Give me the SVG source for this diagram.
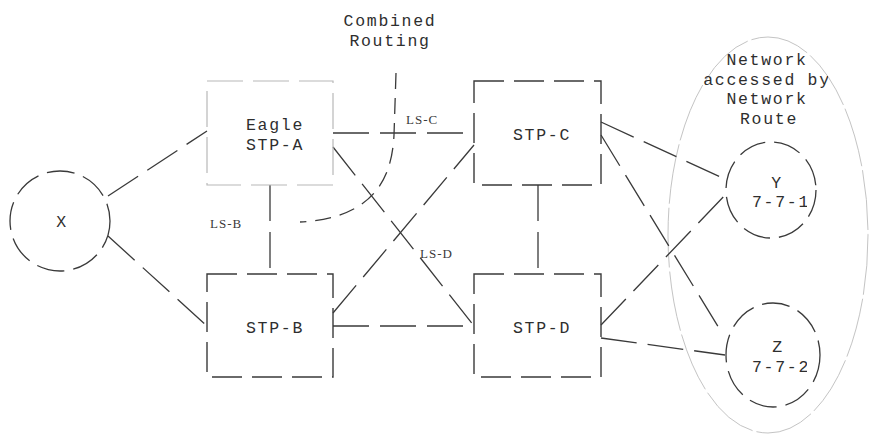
<svg xmlns="http://www.w3.org/2000/svg" width="871" height="436" viewBox="0 0 871 436">
<style>
.bg{fill:#fff}
.box{fill:none;stroke:#3a3a3a;stroke-width:1.4;stroke-dasharray:30 10}
.boxa{fill:none;stroke:#b8b8b8;stroke-width:1.2;stroke-dasharray:36 10}
.circ{fill:none;stroke:#3a3a3a;stroke-width:1.3;stroke-dasharray:28 9}
.link{fill:none;stroke:#3a3a3a;stroke-width:1.3;stroke-dasharray:36 11}
.zone{fill:none;stroke:#c4c4c4;stroke-width:1;stroke-dasharray:60 4}
.t{font-family:"Liberation Mono","Courier New",monospace;font-size:16.5px;letter-spacing:1.7px;fill:#2e2e2e;text-anchor:middle}
.s{font-family:"Liberation Serif","Times New Roman",serif;font-size:13px;fill:#3a3a3a;letter-spacing:1px}
</style>
<defs>
<clipPath id="clipNet"><rect x="600" y="0" width="228" height="436"/></clipPath>
<clipPath id="clipY"><rect x="700" y="140" width="107" height="100"/></clipPath>
<clipPath id="clipZ"><rect x="700" y="300" width="107" height="110"/></clipPath>
</defs>
<rect class="bg" x="0" y="0" width="871" height="436"/>

<g id="network-zone">
<ellipse class="zone" cx="768" cy="235" rx="100" ry="198"/>
<g clip-path="url(#clipNet)">
<text class="t" x="767" y="65">Network</text>
<text class="t" x="767" y="84.5">accessed by</text>
<text class="t" x="767" y="104">Network</text>
<text class="t" x="769" y="123.5">Route</text>
</g>
</g>

<g id="connectors">
<line class="link" x1="108" y1="196" x2="207" y2="131"/>
<line class="link" x1="108" y1="236" x2="207" y2="326"/>
<line class="link" x1="333" y1="133" x2="474" y2="133"/>
<line class="link" x1="270" y1="185" x2="270" y2="274"/>
<line class="link" x1="333" y1="147" x2="474" y2="326"/>
<line class="link" x1="333" y1="313" x2="474" y2="145"/>
<line class="link" x1="333" y1="326" x2="474" y2="326"/>
<line class="link" x1="538" y1="185" x2="538" y2="274"/>
<line class="link" x1="601" y1="122" x2="727" y2="180"/>
<line class="link" x1="601" y1="135" x2="722" y2="333"/>
<line class="link" x1="601" y1="325" x2="727" y2="193"/>
<line class="link" x1="601" y1="338" x2="725" y2="355"/>
<path class="link" style="stroke-dasharray:16 9" d="M396,73 L394,135 C392,178 374,218 300,222"/>
<text class="s" x="406" y="124">LS-C</text>
<text class="s" x="210" y="228">LS-B</text>
<text class="s" x="420" y="258">LS-D</text>
</g>

<g id="combined-routing">
<text class="t" x="390" y="26">Combined</text>
<text class="t" x="390" y="46">Routing</text>
</g>

<g id="node-x">
<circle class="circ" cx="60" cy="221" r="50"/>
<text class="t" x="62" y="227">X</text>
</g>

<g id="node-stp-a">
<rect class="boxa" x="207" y="81" width="126" height="104"/>
<text class="t" x="275" y="130">Eagle</text>
<text class="t" x="275" y="150">STP-A</text>
</g>

<g id="node-stp-b">
<rect class="box" x="207" y="274" width="126" height="103"/>
<text class="t" x="275" y="333">STP-B</text>
</g>

<g id="node-stp-c">
<rect class="box" x="474" y="81" width="127" height="104"/>
<text class="t" x="542" y="140">STP-C</text>
</g>

<g id="node-stp-d">
<rect class="box" x="474" y="274" width="127" height="103"/>
<text class="t" x="542" y="333">STP-D</text>
</g>

<g id="node-y">
<ellipse class="circ" cx="771" cy="190" rx="45" ry="48"/>
<g clip-path="url(#clipY)">
<text class="t" x="777" y="188">Y</text>
<text class="t" x="781" y="207">7-7-1</text>
</g>
</g>

<g id="node-z">
<ellipse class="circ" cx="773" cy="355" rx="47" ry="52"/>
<g clip-path="url(#clipZ)">
<text class="t" x="778" y="352">Z</text>
<text class="t" x="781" y="372">7-7-2</text>
</g>
</g>
</svg>
